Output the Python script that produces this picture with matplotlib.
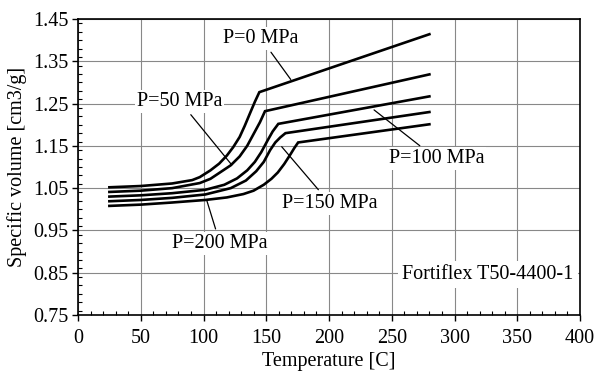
import matplotlib
matplotlib.use("Agg")
import matplotlib.pyplot as plt
from matplotlib.ticker import MultipleLocator

plt.rcParams['font.family'] = ['Liberation Serif', 'DejaVu Serif']

# Data
T0 = [25, 50, 75, 91, 97, 105.5, 112.5, 118.6, 123.7, 128.8, 132.8, 136.9, 140.9, 144.5, 280]
V0 = [1.052, 1.055, 1.061, 1.069, 1.076, 1.092, 1.108, 1.127, 1.147, 1.171, 1.197, 1.226, 1.254, 1.277, 1.414]

T50 = [25, 50, 75, 97, 105.5, 113.6, 121.7, 128.8, 134.8, 139.9, 145, 149, 280]
V50 = [1.041, 1.044, 1.050, 1.062, 1.072, 1.088, 1.104, 1.125, 1.150, 1.178, 1.206, 1.232, 1.319]

T100 = [25, 50, 75, 101.4, 116.6, 126.7, 134.8, 140.9, 146, 151.1, 155.1, 159.6, 280]
V100 = [1.030, 1.033, 1.038, 1.046, 1.058, 1.073, 1.092, 1.112, 1.135, 1.163, 1.184, 1.202, 1.267]

T150 = [25, 50, 75, 101.4, 121.7, 133.8, 142, 148, 153.1, 157.2, 161.2, 165.3, 280]
V150 = [1.019, 1.022, 1.027, 1.035, 1.050, 1.068, 1.090, 1.112, 1.140, 1.158, 1.170, 1.180, 1.230]

T200 = [25, 50, 75, 101.4, 118.6, 131.8, 139.9, 148, 154.1, 159.2, 164.3, 169.3, 172.4, 175.4, 280]
V200 = [1.008, 1.011, 1.016, 1.022, 1.028, 1.036, 1.044, 1.058, 1.072, 1.087, 1.107, 1.130, 1.145, 1.158, 1.201]

series = [(T0, V0), (T50, V50), (T100, V100), (T150, V150), (T200, V200)]

labels = ["P=0 MPa", "P=50 MPa", "P=100 MPa", "P=150 MPa", "P=200 MPa"]
label_text_pos = [(145.8, 1.404), (81, 1.256), (285.8, 1.119), (200.8, 1.014), (113.1, 0.920)]
label_point = [(169.5, 1.307), (122.5, 1.105), (235.9, 1.235), (162.3, 1.148), (102.5, 1.022)]

xticks = [0, 50, 100, 150, 200, 250, 300, 350, 400]
yticks = [0.75, 0.85, 0.95, 1.05, 1.15, 1.25, 1.35, 1.45]

FS = 14.5

fig = plt.figure(figsize=(5.95, 3.77), dpi=100)
ax = fig.add_axes([0.1311, 0.1645, 0.8437, 0.7851])

for T, V in series:
    ax.plot(T, V, color='black', lw=1.9, solid_joinstyle='miter', zorder=3)

for lab, tp, pt in zip(labels, label_text_pos, label_point):
    ax.annotate(lab, xy=pt, xytext=tp, ha='center', va='center', fontsize=FS,
                bbox=dict(boxstyle='square,pad=0.1', fc='white', ec='none'),
                arrowprops=dict(arrowstyle='-', lw=0.9, color='black', shrinkA=2, shrinkB=0),
                zorder=4)

ax.text(326.7, 0.845, "Fortiflex T50-4400-1", ha='center', va='center', fontsize=FS,
        bbox=dict(boxstyle='square,pad=0.2', fc='white', ec='none'), zorder=4)

ax.set_xlim(0, 400)
ax.set_ylim(0.75, 1.45)
ax.set_xticks(xticks)
ax.set_yticks(yticks)
ax.set_yticklabels([f"{v:.2f}" for v in yticks])
ax.xaxis.set_minor_locator(MultipleLocator(10))
ax.yaxis.set_minor_locator(MultipleLocator(0.02))
ax.tick_params(which='major', direction='out', length=4, width=1, labelsize=FS, colors='black')
ax.tick_params(axis='x', which='major', pad=6)
ax.tick_params(axis='y', which='major', pad=3)
ax.tick_params(which='minor', direction='in', length=3, width=0.8)
ax.grid(True, which='major', color='#888888', lw=0.8)
ax.set_axisbelow(True)
for s in ax.spines.values():
    s.set_linewidth(1.2)

ax.set_xlabel("Temperature [C]", fontsize=FS, labelpad=3)
ax.set_ylabel("Specific volume [cm3/g]", fontsize=FS, labelpad=4)

fig.savefig("out.png", dpi=100)
